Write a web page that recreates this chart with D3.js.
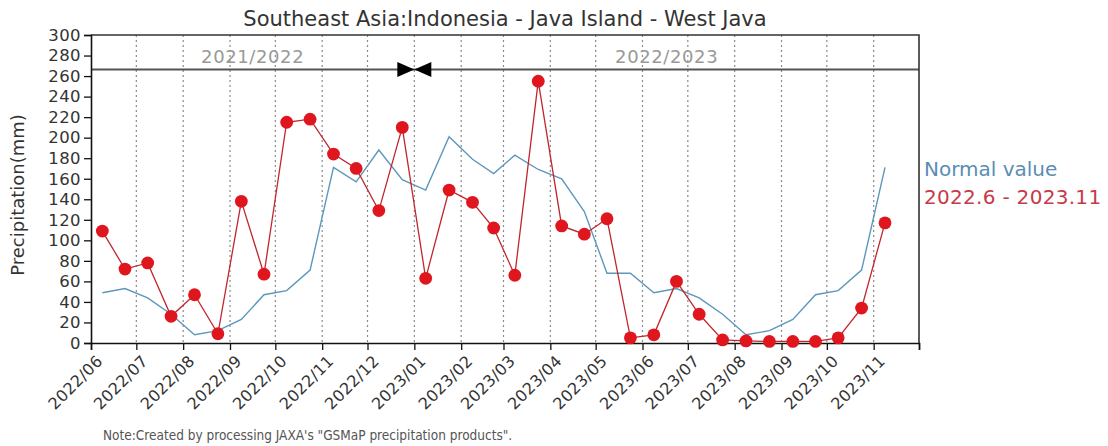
<!DOCTYPE html>
<html><head><meta charset="utf-8">
<script src="https://cdn.jsdelivr.net/npm/d3@7/dist/d3.min.js"></script>
<style>
body{margin:0;background:#fff;}
svg{display:block;font-family:"DejaVu Sans",sans-serif;}
</style>
</head><body>
<svg id="chart" width="1108" height="446"></svg>
<script>
// ---- data ----
const titleText = "Southeast Asia:Indonesia - Java Island - West Java";
const periods = ["2022-06-1","2022-06-2","2022-07-1","2022-07-2","2022-08-1","2022-08-2","2022-09-1","2022-09-2",
  "2022-10-1","2022-10-2","2022-11-1","2022-11-2","2022-12-1","2022-12-2","2023-01-1","2023-01-2",
  "2023-02-1","2023-02-2","2023-03-1","2023-03-2","2023-04-1","2023-04-2","2023-05-1","2023-05-2",
  "2023-06-1","2023-06-2","2023-07-1","2023-07-2","2023-08-1","2023-08-2","2023-09-1","2023-09-2",
  "2023-10-1","2023-10-2","2023-11-1"];
const normalValues = [49,53,44,28,8,12,23,47,51,71,171,157,188,159,149,201,179,165,183,169,160,128,68,68,
  49,53,44,28,8,12,23,47,51,71,171];
const observedValues = [109,72,78,26,47,9,138,67,215,218,184,170,129,210,63,149,137,112,66,255,114,106,121,5,
  8,60,28,3,2,1.5,1.5,1.5,5,34,117];
const monthTicks = ["2022/06","2022/07","2022/08","2022/09","2022/10","2022/11","2022/12","2023/01","2023/02",
  "2023/03","2023/04","2023/05","2023/06","2023/07","2023/08","2023/09","2023/10","2023/11","2023/12"];
const yTicks = [0,20,40,60,80,100,120,140,160,180,200,220,240,260,280,300];
const seasonLabels = ["2021/2022","2022/2023"];
const seasonSplit = "2023/01";
const legendLabels = ["Normal value","2022.6 - 2023.11"];
const yTitle = "Precipitation(mm)";
const noteText = "Note:Created by processing JAXA's \"GSMaP precipitation products\".";

// ---- helpers ----
const DAY = 864e5;
function monthDate(s){ const [y,m]=s.split("/").map(Number); return new Date(Date.UTC(y,m-1,1)); }
function periodDate(p){
  const [y,m,h]=p.split("-").map(Number);
  if(h===1) return new Date(Date.UTC(y,m-1,1)+7.5*DAY);
  return new Date((Date.UTC(y,m-1,16)+Date.UTC(y,m,1))/2);
}

const svg = d3.select("#chart");
const L=91, R=919, T=35, B=343;
const x = d3.scaleUtc().domain([monthDate(monthTicks[0]), monthDate(monthTicks[monthTicks.length-1])]).range([L,R]);
const y = d3.scaleLinear().domain([0,300]).range([B,T]);

// title
svg.append("text").attr("x",(L+R)/2).attr("y",26).attr("text-anchor","middle")
  .attr("font-size",21).attr("fill","#333").text(titleText);

// gridlines (dotted) at inner month ticks
const inner = monthTicks.slice(1,-1);
svg.append("g").selectAll("line").data(inner).join("line")
  .attr("x1",d=>x(monthDate(d))).attr("x2",d=>x(monthDate(d)))
  .attr("y1",T).attr("y2",B)
  .attr("stroke","#8a8a8a").attr("stroke-width",1.2).attr("stroke-dasharray","2,3");

// season band line
const bandY = y(266.5);
svg.append("line").attr("x1",L).attr("x2",R).attr("y1",bandY).attr("y2",bandY)
  .attr("stroke","#555").attr("stroke-width",2);
const sx = x(monthDate(seasonSplit));
svg.append("path").attr("d",`M${sx-17},${bandY-7.5}L${sx},${bandY}L${sx-17},${bandY+7.5}Z`).attr("fill","#000");
svg.append("path").attr("d",`M${sx+17},${bandY-7.5}L${sx},${bandY}L${sx+17},${bandY+7.5}Z`).attr("fill","#000");
svg.append("text").attr("x",(L+sx)/2).attr("y",bandY-6).attr("text-anchor","middle")
  .attr("font-size",18).attr("letter-spacing",0.6).attr("fill","#999").text(seasonLabels[0]);
svg.append("text").attr("x",(sx+R)/2).attr("y",bandY-6).attr("text-anchor","middle")
  .attr("font-size",18).attr("letter-spacing",0.6).attr("fill","#999").text(seasonLabels[1]);

// border top & right
svg.append("path").attr("d",`M${L},${T}H${R}V${B}`).attr("fill","none").attr("stroke","#333").attr("stroke-width",1.6);

// axes
const yAxis = d3.axisLeft(y).tickValues(yTicks).tickSize(7).tickPadding(3);
const gy = svg.append("g").attr("transform",`translate(${L},0)`).call(yAxis);
gy.select(".domain").attr("stroke","#111").attr("stroke-width",1.6);
gy.selectAll(".tick line").attr("stroke","#111").attr("stroke-width",1.3);
gy.selectAll("text").attr("font-size",16.5).attr("letter-spacing",0.4).attr("fill","#333")
  .attr("font-family","DejaVu Sans");

const xAxis = d3.axisBottom(x).tickValues(monthTicks.map(monthDate)).tickSize(7)
  .tickFormat((d,i)=> i<monthTicks.length-1 ? monthTicks[i] : "");
const gx = svg.append("g").attr("transform",`translate(0,${B})`).call(xAxis);
gx.select(".domain").attr("stroke","#111").attr("stroke-width",1.6);
gx.selectAll(".tick line").attr("stroke","#111").attr("stroke-width",1.3);
gx.selectAll("text").attr("font-size",16).attr("letter-spacing",0.3).attr("fill","#333")
  .attr("font-family","DejaVu Sans")
  .attr("text-anchor","end").attr("dy",0).attr("dx",0)
  .attr("transform","translate(5,12) rotate(-45)");

// y title
svg.append("text").attr("transform",`translate(24,${(T+B)/2+6}) rotate(-90)`).attr("text-anchor","middle")
  .attr("font-size",18).attr("fill","#333").text(yTitle);

// normal line
const pts = periods.map(periodDate);
const line = d3.line().x((d,i)=>x(pts[i])).y(d=>y(d));
svg.append("path").datum(normalValues).attr("d",line).attr("fill","none")
  .attr("stroke","#5d97bb").attr("stroke-width",1.4);

// observed
svg.append("path").datum(observedValues).attr("d",line).attr("fill","none")
  .attr("stroke","#c0262d").attr("stroke-width",1.3);
svg.append("g").selectAll("circle").data(observedValues).join("circle")
  .attr("cx",(d,i)=>x(pts[i])).attr("cy",d=>y(d)).attr("r",6.4)
  .attr("fill","#e0161e");

// legend
svg.append("text").attr("x",924).attr("y",176).attr("font-size",20).attr("fill","#5b8db3").text(legendLabels[0]);
svg.append("text").attr("x",924).attr("y",204).attr("font-size",20).attr("letter-spacing",0.3).attr("fill","#c63a4a").text(legendLabels[1]);

// note
svg.append("text").attr("x",103).attr("y",440).attr("font-size",13.5)
  .attr("font-family","'DejaVu Sans Condensed','DejaVu Sans',sans-serif").attr("fill","#555").text(noteText);
</script>
</body></html>
